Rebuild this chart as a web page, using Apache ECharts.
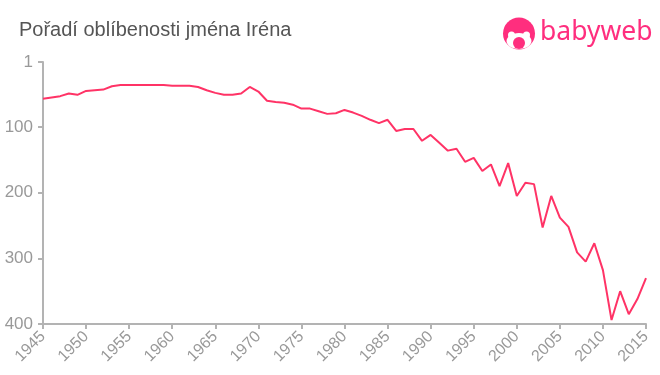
<!DOCTYPE html>
<html><head><meta charset="utf-8">
<style>html,body{margin:0;padding:0;background:#fff}#c{width:660px;height:375px}</style>
<script src="https://cdn.jsdelivr.net/npm/echarts@6/dist/echarts.min.js"></script>
</head><body><div id="c"></div>
<script>
const years = [1945,1946,1947,1948,1949,1950,1951,1952,1953,1954,1955,1956,1957,1958,1959,1960,1961,1962,1963,1964,1965,1966,1967,1968,1969,1970,1971,1972,1973,1974,1975,1976,1977,1978,1979,1980,1981,1982,1983,1984,1985,1986,1987,1988,1989,1990,1991,1992,1993,1994,1995,1996,1997,1998,1999,2000,2001,2002,2003,2004,2005,2006,2007,2008,2009,2010,2011,2012,2013,2014,2015];
const ranks = [57,55,53,49,51,45,44,43,38,36,36,36,36,36,36,37,37,37,39,44,48,51,51,49,39,46,60,62,63,66,72,72,76,80,79,74,78,83,89,94,89,106,103,103,121,112,124,136,133,153,147,167,157,190,155,205,185,187,253,205,238,252,291,305,277,318,394,350,385,362,330];
const yTicks = [1,100,200,300,400];
const titleText = 'Pořadí oblíbenosti jména Iréna';
const brand = 'babyweb';
const pink = '#ff3366', grey = '#999999', axisGrey = '#b3b3b3';
const points = years.map((y,i)=>[y,ranks[i]]);
const chart = echarts.init(document.getElementById('c'),null,{renderer:'canvas'});
chart.setOption({
  animation:false,
  title:{text:titleText,left:14,top:15,textStyle:{fontFamily:'Liberation Sans',fontSize:20,fontWeight:'normal',color:'#555555'}},
  grid:{left:43,right:14,top:62,bottom:51,containLabel:false},
  xAxis:{type:'value',min:1945,max:2015,interval:5,
    axisLine:{lineStyle:{color:axisGrey,width:2}},
    axisTick:{length:5,lineStyle:{color:axisGrey,width:2}},
    splitLine:{show:false},
    axisLabel:{rotate:45,margin:10,fontFamily:'Liberation Sans',fontSize:16,color:grey,formatter:v=>String(v),hideOverlap:false,showMinLabel:true,showMaxLabel:true}},
  yAxis:{type:'value',inverse:true,min:1,max:400,
    axisLine:{show:true,lineStyle:{color:axisGrey,width:2}},
    axisTick:{show:true,length:5,customValues:yTicks,lineStyle:{color:axisGrey,width:2}},
    splitLine:{show:false},
    axisLabel:{margin:10,fontFamily:'Liberation Sans',fontSize:17,color:grey,customValues:yTicks,formatter:v=>String(v)}},
  series:[{type:'line',data:points,showSymbol:false,symbol:'none',smooth:false,clip:false,lineStyle:{color:pink,width:2}}],
  graphic:[
    {type:'circle',shape:{cx:519,cy:33.5,r:16},style:{fill:'#ff2e7e'}},
    {type:'ellipse',shape:{cx:519,cy:41,rx:12.5,ry:8},style:{fill:'#fff'}},
    {type:'circle',shape:{cx:511.5,cy:35,r:3.5},style:{fill:'#fff'}},
    {type:'circle',shape:{cx:526.5,cy:35,r:3.5},style:{fill:'#fff'}},
    {type:'circle',shape:{cx:519,cy:43,r:6},style:{fill:'#ff2e7e'}},
    {type:'text',left:540,top:19,style:{text:brand,fontFamily:'Noto Sans',fontSize:26.5,fontWeight:400,fill:'#ff2e7e'}}
  ]
});
</script></body></html>
